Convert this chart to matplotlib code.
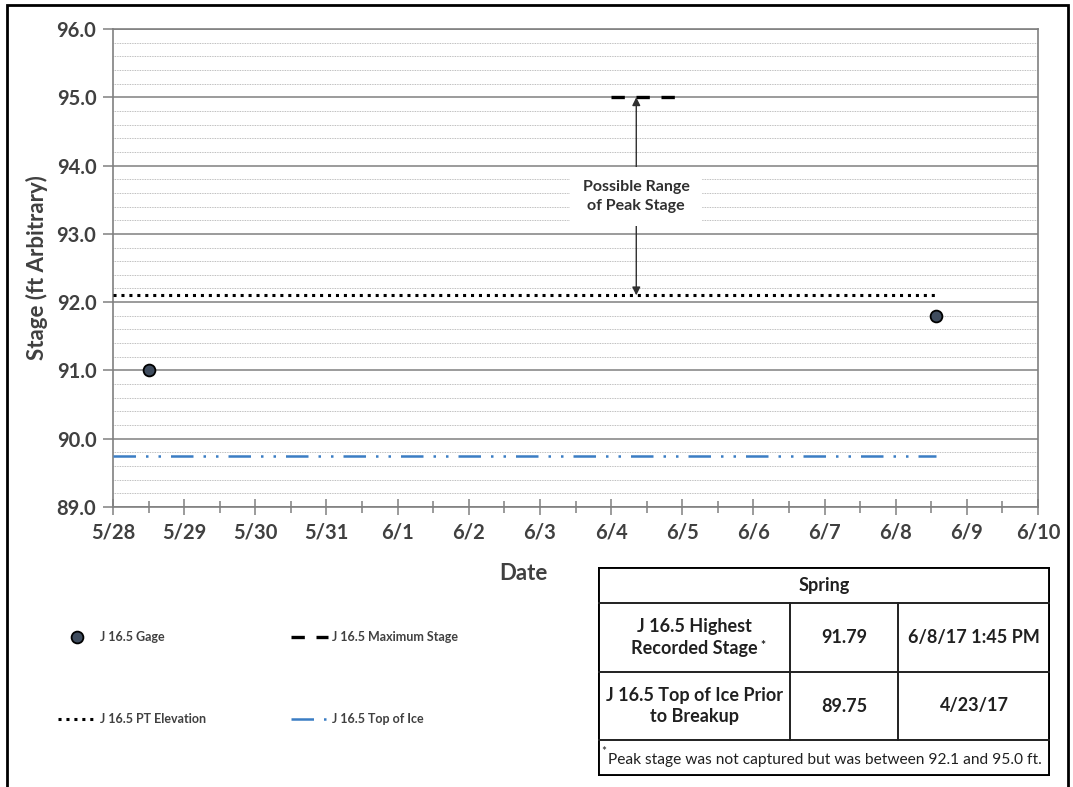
import pandas as pd
import matplotlib.pyplot as plt
import matplotlib.dates as mdates
from matplotlib.ticker import MultipleLocator, FuncFormatter
from matplotlib.patches import Rectangle

plt.rcParams['font.family'] = ['Lato', 'DejaVu Sans']

# data
gage_dates = pd.to_datetime(['2017-05-28 12:00', '2017-06-08 13:45'])
gage_stage = [91.0, 91.79]
pt_dates = pd.to_datetime(['2017-05-28 00:00', '2017-06-08 13:45'])
pt_elev = [92.1, 92.1]
ice_dates = pd.to_datetime(['2017-05-28 00:00', '2017-06-08 13:45'])
ice_top = [89.75, 89.75]
max_dates = pd.to_datetime(['2017-06-04 00:00', '2017-06-05 00:00'])
max_stage = [95.0, 95.0]
range_date = pd.Timestamp('2017-06-04 08:30')
range_low, range_high, range_label_y = 92.1, 95.0, 93.55
x_start, x_end = pd.Timestamp('2017-05-28'), pd.Timestamp('2017-06-10')

table_header = 'Spring'
table_rows = [['J 16.5 Highest', 'Recorded Stage'], ['J 16.5 Top of Ice Prior', 'to Breakup']]
table_values = ['91.79', '89.75']
table_dates = ['6/8/17 1:45 PM', '4/23/17']
table_note = 'Peak stage was not captured but was between 92.1 and 95.0 ft.'

W, H = 1073, 787
fig = plt.figure(figsize=(W / 100, H / 100), dpi=100)
fig.patches.append(Rectangle((7 / W, -0.01), 1061 / W, 1 - 5 / H + 0.01, transform=fig.transFigure,
                             fill=False, ec='black', lw=2, zorder=0))

ax = fig.add_axes([113 / W, 1 - 507 / H, (1038 - 113) / W, (507 - 29) / H])
txt = '#404040'
grid_c = '#808080'

ax.plot(ice_dates, ice_top, color='#3b7dc4', lw=1.8, dashes=(9, 4, 1, 4, 1, 4),
        label='J 16.5 Top of Ice', zorder=3)
ax.plot(pt_dates, pt_elev, color='black', lw=2.2, dashes=(1, 1.6),
        label='J 16.5 PT Elevation', zorder=3)
ax.plot(max_dates, max_stage, color='black', lw=2.4, dashes=(4, 3.5),
        label='J 16.5 Maximum Stage', zorder=3)
ax.plot(gage_dates, gage_stage, ls='none', marker='o', ms=8.5, mfc='#3f4c5e', mec='black',
        mew=1.3, label='J 16.5 Gage', zorder=4)

arrow = dict(arrowstyle='-|>', color='#303030', lw=1, mutation_scale=12, shrinkA=0, shrinkB=0)
ax.annotate('', xy=(range_date, range_high), xytext=(range_date, range_label_y),
            arrowprops=arrow, zorder=5)
ax.annotate('', xy=(range_date, range_low), xytext=(range_date, range_label_y),
            arrowprops=arrow, zorder=5)
ax.text(range_date, range_label_y, 'Possible Range\nof Peak Stage', ha='center', va='center',
        fontsize=11.5, fontweight='bold', color='#303030', linespacing=1.5, zorder=6,
        bbox=dict(boxstyle='square,pad=0.8', fc='white', ec='none'))

ax.set_xlim(x_start, x_end)
ax.set_ylim(89, 96)
ax.xaxis.set_major_locator(mdates.DayLocator())
ax.xaxis.set_minor_locator(mdates.HourLocator(byhour=[12]))
ax.xaxis.set_major_formatter(FuncFormatter(lambda v, p: f'{mdates.num2date(v).month}/{mdates.num2date(v).day}'))
ax.yaxis.set_major_locator(MultipleLocator(1))
ax.yaxis.set_minor_locator(MultipleLocator(0.2))
ax.yaxis.set_major_formatter(FuncFormatter(lambda v, p: f'{v:.1f}'))

ax.grid(True, which='major', axis='y', color=grid_c, lw=1.1)
ax.grid(True, which='minor', axis='y', color='#a8a8a8', lw=0.6, ls=(0, (1, 1)))
ax.set_axisbelow(True)
for s in ['left', 'bottom', 'right', 'top']:
    ax.spines[s].set_color(grid_c)
    ax.spines[s].set_linewidth(1.2)

ax.tick_params(axis='x', which='major', direction='inout', length=12, width=1.1, color=grid_c,
               pad=5, labelsize=14.5, labelcolor=txt)
ax.tick_params(axis='x', which='minor', direction='inout', length=8, width=1.1, color=grid_c)
ax.tick_params(axis='y', which='major', direction='out', length=7, width=1.1, color=grid_c,
               pad=5, labelsize=14.5, labelcolor=txt)
ax.tick_params(axis='y', which='minor', length=0)
for lab in ax.get_xticklabels() + ax.get_yticklabels():
    lab.set_fontweight('bold')

ax.set_xlabel('Date', fontsize=16, fontweight='bold', color=txt)
ax.xaxis.set_label_coords(0.444, -0.117)
ax.set_ylabel('Stage (ft Arbitrary)', fontsize=16, fontweight='bold', color=txt)
ax.yaxis.set_label_coords(-0.07, 0.5)

h, l = ax.get_legend_handles_labels()
order = [3, 1, 2, 0]
fig.legend([h[i] for i in order], [l[i] for i in order], ncol=2, loc='upper left',
           bbox_to_anchor=(47 / W, 1 - 620 / H), frameon=False, handlelength=3.0,
           labelspacing=5.6, columnspacing=6.8, handletextpad=0.3,
           prop=dict(size=9, weight='bold'), labelcolor=txt)

# summary table
tx = fig.add_axes([598 / W, 1 - 776 / H, (1050 - 598) / W, (776 - 567) / H])
tx.set_xlim(598, 1050)
tx.set_ylim(776, 567)
tx.axis('off')
tc = '#202020'
tx.add_patch(Rectangle((598, 567), 452, 209, fill=False, ec='black', lw=2.8))
for y in [603, 672, 740]:
    tx.plot([598, 1050], [y, y], color=tc, lw=1.4)
for x in [790, 898]:
    tx.plot([x, x], [603, 740], color=tc, lw=1.4)
tx.text(824, 586, table_header, ha='center', va='center', fontsize=13, fontweight='bold', color=tc)
row_y = [637.5, 706]
for ry, lines, val, d in zip(row_y, table_rows, table_values, table_dates):
    tx.text(694, ry, '\n'.join(lines), ha='center', va='center', fontsize=13, fontweight='bold',
            color=tc, linespacing=1.35)
    tx.text(844, ry, val, ha='center', va='center', fontsize=13, fontweight='bold', color=tc)
    tx.text(974, ry, d, ha='center', va='center', fontsize=13, fontweight='bold', color=tc)
tx.text(760, 646, '*', ha='left', va='center', fontsize=8.5, fontweight='bold', color=tc)
tx.text(601, 751, '*', ha='left', va='center', fontsize=8.5, color=tc)
tx.text(608, 760, table_note, ha='left', va='center', fontsize=11.2, color=tc)

fig.savefig('out.png', dpi=100)
